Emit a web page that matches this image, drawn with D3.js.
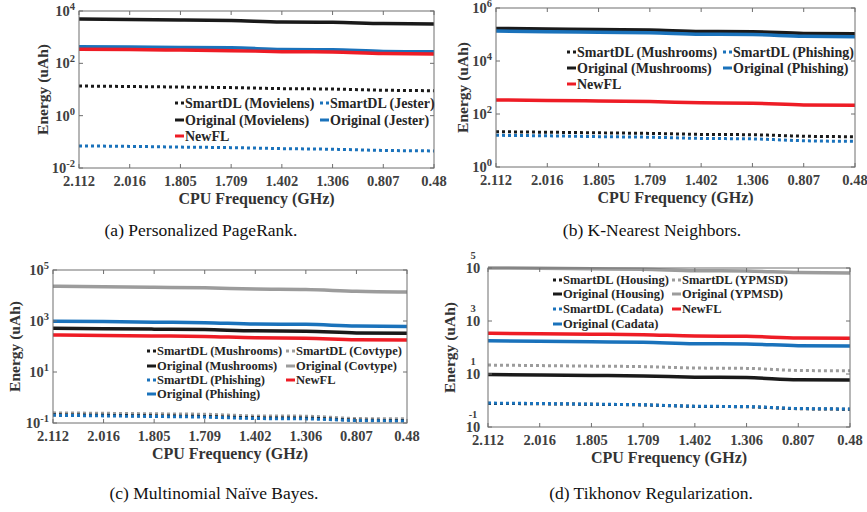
<!DOCTYPE html>
<html>
<head>
<meta charset="utf-8">
<script src="https://cdn.jsdelivr.net/npm/d3@7"></script>
<style>
  body { margin: 0; background: #fff; }
  svg text { font-family: "Liberation Serif", "Times New Roman", serif; }
</style>
</head>
<body>
<svg id="drawing_region"></svg>
<script>
// x categories (CPU frequency, GHz)
const freqs = ["2.112", "2.016", "1.805", "1.709", "1.402", "1.306", "0.807", "0.48"];

// (a) Personalized PageRank
const aSmartMovielens = [13.6, 13.0, 12.4, 11.8, 10.8, 10.4, 9.4, 9.0];
const aSmartJester = [0.070, 0.067, 0.063, 0.060, 0.055, 0.052, 0.047, 0.045];
const aOrigMovielens = [4900, 4700, 4500, 4300, 3800, 3700, 3300, 3200];
const aOrigJester = [435, 420, 400, 390, 340, 330, 285, 277];
const aNewFL = [345, 335, 320, 305, 280, 270, 235, 228];

// (b) K-Nearest Neighbors
const bSmartMush = [21.5, 20.5, 19.5, 18.5, 17.0, 16.5, 14.5, 13.9];
const bSmartPhish = [15.7, 15.0, 14.0, 13.3, 12.0, 11.5, 9.8, 9.3];
const bOrigMush = [170000, 162000, 155000, 147000, 130000, 127000, 110000, 107000];
const bOrigPhish = [135000, 128000, 122000, 116000, 103000, 100000, 86000, 83000];
const bNewFL = [338, 325, 310, 295, 265, 255, 220, 213];

// (c) Multinomial Naive Bayes
const cSmartMush = [0.21, 0.20, 0.19, 0.18, 0.16, 0.155, 0.13, 0.125];
const cSmartCov = [0.25, 0.24, 0.23, 0.22, 0.19, 0.185, 0.15, 0.145];
const cSmartPhish = [0.20, 0.19, 0.18, 0.17, 0.15, 0.145, 0.125, 0.12];
const cOrigMush = [520, 500, 480, 460, 410, 400, 340, 330];
const cOrigCov = [23000, 22000, 21000, 20000, 18000, 17200, 14600, 13700];
const cOrigPhish = [980, 950, 900, 860, 760, 740, 630, 610];
const cNewFL = [284, 272, 260, 248, 220, 213, 185, 180];

// (d) Tikhonov Regularization
const dSmartHousing = [0.78, 0.75, 0.72, 0.68, 0.60, 0.58, 0.49, 0.47];
const dOrigHousing = [9.6, 9.2, 8.8, 8.4, 7.6, 7.3, 6.1, 5.9];
const dSmartCadata = [0.80, 0.77, 0.73, 0.69, 0.61, 0.59, 0.50, 0.48];
const dOrigCadata = [180, 173, 165, 158, 140, 136, 117, 114];
const dSmartYPMSD = [21.7, 20.8, 19.8, 19.0, 16.8, 16.3, 13.6, 13.2];
const dOrigYPMSD = [100000, 98000, 93000, 89000, 79000, 77000, 67000, 65000];
const dNewFL = [346, 333, 318, 303, 272, 264, 227, 222];

const BLACK = "#1a1a1a", BLUE = "#1a72bb", RED = "#ee1c25", GRAY = "#9c9c9c";
const TXT = "#404040";

const svg = d3.select("#drawing_region").attr("width", 867).attr("height", 512);

function s(name, values, color, dotted) { return { name, values, color, dotted }; }

const panels = [
    {
        left: 79, top: 11, right: 434, bottom: 168, exps: [-2, 0, 2, 4],
        caption: "(a) Personalized PageRank.", capX: 201, capY: 236, titleX: 43,
        legend: { font: 14, cols: [175, 320], rows: [103, 120, 136] },
        series: [
            s("SmartDL (Movielens)", aSmartMovielens, BLACK, true),
            s("Original (Movielens)", aOrigMovielens, BLACK, false),
            s("NewFL", aNewFL, RED, false),
            s("SmartDL (Jester)", aSmartJester, BLUE, true),
            s("Original (Jester)", aOrigJester, BLUE, false)
        ],
        order: [[0, 0], [0, 1], [0, 2], [1, 0], [1, 1]],
        drawOrder: [0, 3, 1, 4, 2]
    },
    {
        left: 496, top: 8, right: 855, bottom: 167, exps: [0, 2, 4, 6],
        caption: "(b) K-Nearest Neighbors.", capX: 652, capY: 236, titleX: 463,
        legend: { font: 14, cols: [567, 723], rows: [52, 68, 84] },
        series: [
            s("SmartDL (Mushrooms)", bSmartMush, BLACK, true),
            s("Original (Mushrooms)", bOrigMush, BLACK, false),
            s("NewFL", bNewFL, RED, false),
            s("SmartDL (Phishing)", bSmartPhish, BLUE, true),
            s("Original (Phishing)", bOrigPhish, BLUE, false)
        ],
        order: [[0, 0], [0, 1], [0, 2], [1, 0], [1, 1]],
        drawOrder: [0, 3, 1, 4, 2]
    },
    {
        left: 53, top: 270, right: 407, bottom: 423, exps: [-1, 1, 3, 5],
        caption: "(c) Multinomial Naïve Bayes.", capX: 214, capY: 499, titleX: 15,
        legend: { font: 12.5, cols: [147, 286], rows: [351, 366, 380, 394] },
        series: [
            s("SmartDL (Mushrooms)", cSmartMush, BLACK, true),
            s("Original (Mushrooms)", cOrigMush, BLACK, false),
            s("SmartDL (Phishing)", cSmartPhish, BLUE, true),
            s("Original (Phishing)", cOrigPhish, BLUE, false),
            s("SmartDL (Covtype)", cSmartCov, GRAY, true),
            s("Original (Covtype)", cOrigCov, GRAY, false),
            s("NewFL", cNewFL, RED, false)
        ],
        order: [[0, 0], [0, 1], [0, 2], [0, 3], [1, 0], [1, 1], [1, 2]],
        drawOrder: [4, 0, 2, 5, 3, 1, 6]
    },
    {
        left: 488, top: 268, right: 850, bottom: 427, exps: [-1, 1, 3, 5], oddSup: true,
        caption: "(d) Tikhonov Regularization.", capX: 651, capY: 499, titleX: 450,
        legend: { font: 12.5, cols: [553, 672], rows: [280, 294, 309, 324] },
        series: [
            s("SmartDL (Housing)", dSmartHousing, BLACK, true),
            s("Original (Housing)", dOrigHousing, BLACK, false),
            s("SmartDL (Cadata)", dSmartCadata, BLUE, true),
            s("Original (Cadata)", dOrigCadata, BLUE, false),
            s("SmartDL (YPMSD)", dSmartYPMSD, GRAY, true),
            s("Original (YPMSD)", dOrigYPMSD, GRAY, false),
            s("NewFL", dNewFL, RED, false)
        ],
        order: [[0, 0], [0, 1], [0, 2], [0, 3], [1, 0], [1, 1], [1, 2]],
        drawOrder: [4, 5, 1, 0, 2, 3, 6]
    }
];

panels.forEach(drawPanel);

function drawPanel(p) {
    const g = svg.append("g");
    const x = d3.scalePoint().domain(freqs).range([p.left, p.right]);
    const e0 = p.exps[0], e1 = p.exps[p.exps.length - 1];
    const y = d3.scaleLog().domain([Math.pow(10, e0), Math.pow(10, e1)]).range([p.bottom, p.top]);

    const clipId = "clip" + p.left + "_" + p.top;
    g.append("clipPath").attr("id", clipId)
        .append("rect").attr("x", p.left).attr("y", p.top - 2)
        .attr("width", p.right - p.left).attr("height", p.bottom - p.top + 2);

    const line = d3.line().x((d, i) => x(freqs[i])).y(d => y(d)).curve(d3.curveMonotoneX);

    const lines = g.append("g").attr("clip-path", `url(#${clipId})`);
    p.drawOrder.forEach(k => {
        const sr = p.series[k];
        lines.append("path")
            .attr("d", line(sr.values))
            .attr("fill", "none")
            .attr("stroke", sr.color)
            .attr("stroke-width", sr.dotted ? 3 : 3.5)
            .attr("stroke-dasharray", sr.dotted ? "3,3" : null);
    });

    // box with inward ticks on all four sides
    const axisColor = "#6e6e6e";
    g.append("rect")
        .attr("x", p.left).attr("y", p.top)
        .attr("width", p.right - p.left).attr("height", p.bottom - p.top)
        .attr("fill", "none").attr("stroke", axisColor).attr("stroke-width", 1);

    freqs.forEach(f => {
        g.append("line").attr("x1", x(f)).attr("x2", x(f))
            .attr("y1", p.bottom).attr("y2", p.bottom - 4).attr("stroke", axisColor);
        g.append("line").attr("x1", x(f)).attr("x2", x(f))
            .attr("y1", p.top).attr("y2", p.top + 4).attr("stroke", axisColor);
        g.append("text")
            .attr("x", x(f)).attr("y", p.bottom + 18)
            .attr("text-anchor", "middle")
            .attr("font-size", 14.5).attr("font-weight", "bold").attr("fill", TXT)
            .text(f);
    });

    p.exps.forEach(e => {
        const yy = y(Math.pow(10, e));
        g.append("line").attr("x1", p.left).attr("x2", p.left + 4)
            .attr("y1", yy).attr("y2", yy).attr("stroke", axisColor);
        g.append("line").attr("x1", p.right).attr("x2", p.right - 4)
            .attr("y1", yy).attr("y2", yy).attr("stroke", axisColor);
        if (p.oddSup) {
            g.append("text")
                .attr("x", p.left - 15).attr("y", yy + 5)
                .attr("text-anchor", "middle")
                .attr("font-size", 14.5).attr("font-weight", "bold").attr("fill", TXT)
                .text("10");
            g.append("text")
                .attr("x", p.left - 15).attr("y", yy - 9)
                .attr("text-anchor", "middle")
                .attr("font-size", 10.5).attr("font-weight", "bold").attr("fill", TXT)
                .text(e);
        } else {
            const t = g.append("text")
                .attr("x", p.left - 4).attr("y", yy + 5)
                .attr("text-anchor", "end")
                .attr("font-size", 14.5).attr("font-weight", "bold").attr("fill", TXT);
            t.append("tspan").text("10");
            t.append("tspan").attr("dy", -6).attr("font-size", 10.5).text(e);
        }
    });

    // axis titles
    g.append("text")
        .attr("x", (p.left + p.right) / 2).attr("y", p.bottom + 36)
        .attr("text-anchor", "middle")
        .attr("font-size", 16).attr("font-weight", "bold").attr("fill", "#333")
        .text("CPU Frequency (GHz)");
    g.append("text")
        .attr("transform", `translate(${p.titleX}, ${(p.top + p.bottom) / 2}) rotate(-90)`)
        .attr("text-anchor", "middle").attr("dy", "0.35em")
        .attr("font-size", 15.5).attr("font-weight", "bold").attr("fill", "#333")
        .text("Energy (uAh)");

    // legend
    const lg = p.legend;
    p.order.forEach((pos, k) => {
        const sr = p.series[k];
        const lx = lg.cols[pos[0]], ly = lg.rows[pos[1]];
        g.append("line")
            .attr("x1", lx).attr("x2", lx + 9)
            .attr("y1", ly).attr("y2", ly)
            .attr("stroke", sr.color).attr("stroke-width", 3)
            .attr("stroke-dasharray", sr.dotted ? "3,3" : null);
        g.append("text")
            .attr("x", lx + 10).attr("y", ly).attr("dy", "0.35em")
            .attr("font-size", lg.font).attr("font-weight", "bold").attr("fill", "#262626")
            .text(sr.name);
    });

    // caption
    svg.append("text")
        .attr("x", p.capX).attr("y", p.capY)
        .attr("text-anchor", "middle")
        .attr("font-size", 17.5).attr("fill", "#111")
        .text(p.caption);
}
</script>
</body>
</html>
